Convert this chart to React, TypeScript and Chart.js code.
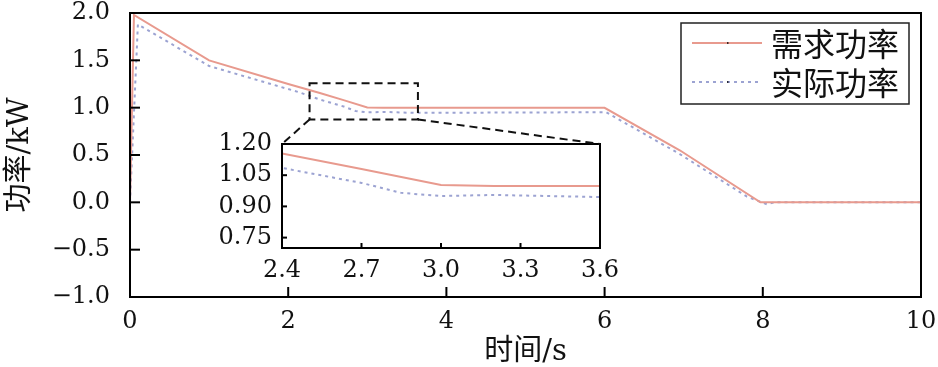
import React, { useEffect, useRef } from 'react';
import { Chart, registerables } from 'chart.js';
Chart.register(...registerables);

// ---- data ----
const demandLabel = '需求功率';
const actualLabel = '实际功率';
const demandT = [0, 0.05, 1.0, 2.0, 2.4, 2.7, 3.0, 3.2, 6.0, 6.95, 7.97, 10];
const demandV = [0, 1.98, 1.5, 1.25, 1.155, 1.08, 1.003, 0.998, 0.998, 0.55, 0, 0];
const actualT = [0, 0.1, 1.0, 2.15, 2.4, 2.7, 2.85, 3.0, 3.2, 3.6, 6.02, 6.95, 7.8, 8.05, 8.15, 10];
const actualV = [0, 1.88, 1.44, 1.16, 1.085, 1.013, 0.965, 0.95, 0.955, 0.945, 0.952, 0.51, 0.06, -0.02, 0, 0];

const mainXTicks = [0, 2, 4, 6, 8, 10];
const mainYTicks = [-1.0, -0.5, 0.0, 0.5, 1.0, 1.5, 2.0];
const insetXTicks = [2.4, 2.7, 3.0, 3.3, 3.6];
const insetYTicks = [0.75, 0.9, 1.05, 1.2];
const zoomBox = { x0: 2.27, x1: 3.64, y0: 0.876, y1: 1.257 };

const xTitle = '时间/s';
const yTitle = '功率/kW';

// ---- styles ----
const RED = '#E89A8E';
const BLUE = '#9CA3D2';
const SERIF = '"DejaVu Serif", serif';
const CJK = '"DejaVu Serif", "Noto Sans CJK SC", serif';
const W = 938;
const H = 367;

const toXY = (t: number[], v: number[]) => t.map((x, i) => ({ x, y: v[i] }));

const datasets = () => [
  {
    label: demandLabel,
    data: toXY(demandT, demandV),
    borderColor: RED,
    backgroundColor: RED,
    borderWidth: 2,
    pointRadius: 0,
    tension: 0,
  },
  {
    label: actualLabel,
    data: toXY(actualT, actualV),
    borderColor: BLUE,
    backgroundColor: BLUE,
    borderWidth: 2,
    borderDash: [3, 4],
    pointRadius: 0,
    tension: 0,
  },
];

const fixScale = (w?: number, h?: number) => (s: any) => {
  if (w !== undefined) s.width = w;
  if (h !== undefined) s.height = h;
  s.paddingTop = 0;
  s.paddingBottom = 0;
  s.paddingLeft = 0;
  s.paddingRight = 0;
};

const setTicks = (arr: number[]) => (s: any) => {
  s.ticks = arr.map((v) => ({ value: v }));
};

const drawFrameAndTicks = (chart: any, len: number, lw: number) => {
  const { ctx, chartArea: a, scales } = chart;
  const x = scales.x;
  const y = scales.y;
  ctx.save();
  ctx.strokeStyle = '#000';
  ctx.lineWidth = lw;
  ctx.setLineDash([]);
  x.ticks.forEach((t: any) => {
    const px = x.getPixelForValue(t.value);
    ctx.beginPath();
    ctx.moveTo(px, a.bottom);
    ctx.lineTo(px, a.bottom - len);
    ctx.stroke();
  });
  y.ticks.forEach((t: any) => {
    const py = y.getPixelForValue(t.value);
    ctx.beginPath();
    ctx.moveTo(a.left, py);
    ctx.lineTo(a.left + len, py);
    ctx.stroke();
  });
  ctx.strokeRect(a.left, a.top, a.right - a.left, a.bottom - a.top);
  ctx.restore();
};

const mainPlugin = {
  id: 'mainDecor',
  afterDraw(chart: any) {
    drawFrameAndTicks(chart, 10, 2);
    const { ctx, chartArea: a, scales } = chart;
    const x = scales.x;
    const y = scales.y;
    // zoom box
    ctx.save();
    ctx.strokeStyle = '#111';
    ctx.lineWidth = 2;
    ctx.setLineDash([8, 5]);
    const bx0 = x.getPixelForValue(zoomBox.x0);
    const bx1 = x.getPixelForValue(zoomBox.x1);
    const by0 = y.getPixelForValue(zoomBox.y1);
    const by1 = y.getPixelForValue(zoomBox.y0);
    ctx.strokeRect(bx0, by0, bx1 - bx0, by1 - by0);
    ctx.restore();

    // legend
    const ds = chart.data.datasets;
    const lw = 228;
    const lh = 81;
    const lx = a.right - 12 - lw;
    const ly = a.top + 10;
    ctx.save();
    ctx.fillStyle = '#fff';
    ctx.fillRect(lx, ly, lw, lh);
    ctx.strokeStyle = '#222';
    ctx.lineWidth = 1.5;
    ctx.setLineDash([]);
    ctx.strokeRect(lx, ly, lw, lh);
    ds.forEach((d: any, i: number) => {
      const cy = ly + 20 + i * 39;
      ctx.strokeStyle = d.borderColor;
      ctx.lineWidth = 2;
      ctx.setLineDash(d.borderDash || []);
      ctx.beginPath();
      ctx.moveTo(lx + 11, cy);
      ctx.lineTo(lx + 81, cy);
      ctx.stroke();
      ctx.fillStyle = '#000';
      ctx.fillRect(lx + 46, cy - 0.75, 1.5, 1.5);
      ctx.fillStyle = '#111';
      ctx.font = '32px "Noto Sans CJK SC", serif';
      ctx.textBaseline = 'middle';
      ctx.textAlign = 'left';
      ctx.fillText(d.label, lx + 90, cy + 1);
    });
    ctx.restore();
  },
};

export default function App() {
  const mainRef = useRef<HTMLCanvasElement | null>(null);
  const insetRef = useRef<HTMLCanvasElement | null>(null);

  useEffect(() => {
    if (!mainRef.current || !insetRef.current) return;
    const main = new Chart(mainRef.current, {
      type: 'line',
      data: { datasets: datasets() as any },
      options: {
        animation: false,
        responsive: false,
        maintainAspectRatio: false,
        layout: { padding: { left: 0, top: 13, right: 17, bottom: 0 } },
        plugins: { legend: { display: false }, tooltip: { enabled: false } },
        scales: {
          x: {
            type: 'linear',
            min: 0,
            max: 10,
            grid: { display: false, drawTicks: false },
            border: { display: false },
            afterBuildTicks: setTicks(mainXTicks),
            afterFit: fixScale(undefined, 70),
            ticks: {
              padding: 10,
              color: '#111',
              font: { family: SERIF, size: 24, lineHeight: 1.2 },
              callback: (v: any) => String(v),
              maxRotation: 0,
            },
            title: {
              display: true,
              text: xTitle,
              color: '#111',
              font: { family: CJK, size: 29, lineHeight: 1.0 },
              padding: { top: 0, bottom: 0 },
            },
          },
          y: {
            type: 'linear',
            min: -1,
            max: 2,
            grid: { display: false, drawTicks: false },
            border: { display: false },
            afterBuildTicks: setTicks(mainYTicks),
            afterFit: fixScale(130, undefined),
            ticks: {
              padding: 20,
              color: '#111',
              font: { family: SERIF, size: 24, lineHeight: 1.2 },
              callback: (v: any) => Number(v).toFixed(1).replace('-', '\u2212'),
            },
            title: {
              display: true,
              text: yTitle,
              color: '#111',
              font: { family: CJK, size: 29, lineHeight: 1.0 },
              padding: { top: 6, bottom: 0 },
            },
          },
        },
      },
      plugins: [mainPlugin],
    });

    const insetPlugin = {
      id: 'insetDecor',
      beforeDatasetsDraw(chart: any) {
        const { ctx, chartArea: a } = chart;
        ctx.save();
        ctx.fillStyle = '#fff';
        ctx.fillRect(a.left, a.top, a.right - a.left, a.bottom - a.top);
        ctx.restore();
      },
      afterDraw(chart: any) {
        drawFrameAndTicks(chart, 5, 2);
        const { ctx, chartArea: a } = chart;
        const mx = main.scales.x;
        const my = main.scales.y;
        ctx.save();
        ctx.strokeStyle = '#111';
        ctx.lineWidth = 2;
        ctx.setLineDash([8, 5]);
        const by = my.getPixelForValue(zoomBox.y0);
        ctx.beginPath();
        ctx.moveTo(mx.getPixelForValue(zoomBox.x0), by);
        ctx.lineTo(a.left, a.top);
        ctx.moveTo(mx.getPixelForValue(zoomBox.x1), by);
        ctx.lineTo(a.right, a.top);
        ctx.stroke();
        ctx.restore();
      },
    };

    const inset = new Chart(insetRef.current, {
      type: 'line',
      data: { datasets: datasets() as any },
      options: {
        animation: false,
        responsive: false,
        maintainAspectRatio: false,
        layout: { padding: { left: 212, top: 144, right: 338, bottom: 79 } },
        plugins: { legend: { display: false }, tooltip: { enabled: false } },
        scales: {
          x: {
            type: 'linear',
            min: 2.4,
            max: 3.6,
            grid: { display: false, drawTicks: false },
            border: { display: false },
            afterBuildTicks: setTicks(insetXTicks),
            afterFit: fixScale(undefined, 40),
            ticks: {
              padding: 8,
              color: '#111',
              font: { family: SERIF, size: 24, lineHeight: 1.2 },
              callback: (v: any) => Number(v).toFixed(1),
              maxRotation: 0,
              autoSkip: false,
            },
          },
          y: {
            type: 'linear',
            min: 0.7,
            max: 1.2,
            grid: { display: false, drawTicks: false },
            border: { display: false },
            afterBuildTicks: setTicks(insetYTicks),
            afterFit: fixScale(70, undefined),
            ticks: {
              padding: 10,
              color: '#111',
              font: { family: SERIF, size: 24, lineHeight: 1.2 },
              callback: (v: any) => Number(v).toFixed(2),
              autoSkip: false,
            },
          },
        },
      },
      plugins: [insetPlugin],
    });

    return () => {
      inset.destroy();
      main.destroy();
    };
  }, []);

  const style: React.CSSProperties = { position: 'absolute', left: 0, top: 0 };
  return (
    <div style={{ position: 'absolute', left: 0, top: 0, width: W, height: H, background: '#fff' }}>
      <canvas ref={mainRef} width={W} height={H} style={style} />
      <canvas ref={insetRef} width={W} height={H} style={style} />
    </div>
  );
}
